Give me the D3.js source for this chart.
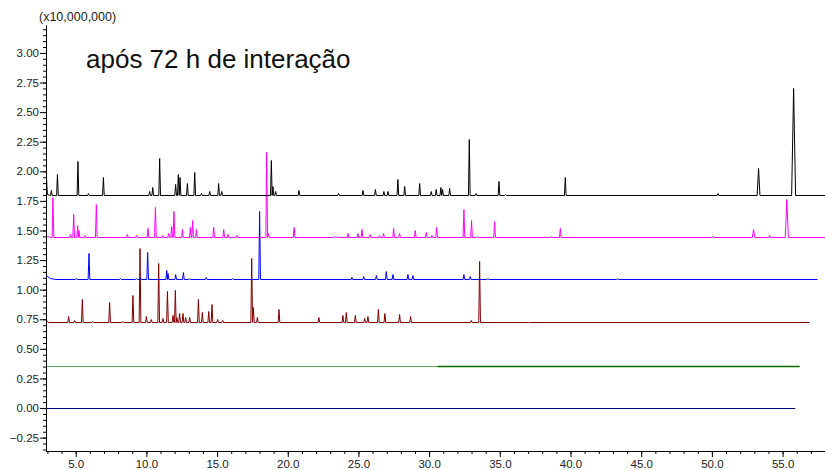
<!DOCTYPE html>
<html>
<head>
<meta charset="utf-8">
<script src="https://d3js.org/d3.v7.min.js"></script>
<style>
  body { margin: 0; background: #fff; }
  svg text { font-family: Arial, "Liberation Sans", sans-serif; }
</style>
</head>
<body>
<div id="graph"></div>
<script>
// chromatogram traces, retention time (min) vs intensity (x10,000,000)
// each trace: baseline level, first points, peak apexes [time, value, halfWidth?], end time

var blackBase = 1.80;
var blackStart = [[2.93, 1.96], [3.0, 1.81]];
var blackPeaks = [[3.28,1.84],[3.71,1.976],[5.16,2.086],[5.9,1.82],[6.96,1.95],[10.23,1.83],[10.45,1.87],[10.94,2.11],
  [12.07,1.89],[12.26,1.98],[12.38,1.95],[12.9,1.905],[13.42,1.99],[13.9,1.82],[14.48,1.83],[15.11,1.90],[15.33,1.83],
  [18.84,2.095],[18.95,1.88],[19.14,1.83],[20.79,1.84],[23.6,1.82],[25.32,1.84],[26.2,1.85],[26.8,1.83],[27.09,1.83],
  [27.79,1.934],[28.27,1.88],[29.33,1.90],[30.15,1.83],[30.5,1.85],[30.83,1.87],[30.95,1.85],[31.45,1.86],[32.84,2.27],
  [33.33,1.82],[34.94,1.917],[35.4,1.81],[39.63,1.95],[50.43,1.82],[53.3,2.03,0.1],[55.78,2.70,0.14]];
var blackEnd = 58;

var magentaBase = 1.445;
var magentaStart = [[2.93, 1.45]];
var magentaPeaks = [[3.39,1.78],[4.63,1.47],[4.86,1.64],[5.14,1.545],[5.23,1.50],[5.64,1.46],[6.46,1.72],[8.66,1.47],
  [9.3,1.46],[10.11,1.52],[10.64,1.70],[11.17,1.46],[11.58,1.48],[11.79,1.537],[11.95,1.665],[12.55,1.51],[13.11,1.53],
  [13.27,1.59],[13.54,1.51],[14.76,1.526],[15.47,1.51],[15.77,1.47],[16.39,1.46],[18.51,2.16],[18.63,1.48],[20.45,1.526],
  [23.32,1.455],[23.55,1.455],[24.26,1.475],[24.96,1.48],[25.25,1.515],[25.84,1.47],[26.5,1.46],[26.78,1.48],[27.49,1.52],
  [27.91,1.48],[29.02,1.50],[29.8,1.49],[30.2,1.465],[30.53,1.53],[32.46,1.68],[33.0,1.59],[33.43,1.45],[34.63,1.58],
  [38.64,1.455],[39.28,1.52],[50.05,1.455],[52.95,1.515,0.09],[54.08,1.46],[55.3,1.765,0.11]];
var magentaEnd = 58;

var blueBase = 1.09;
var blueStart = [[2.93, 1.12], [3.2, 1.10], [3.6, 1.092]];
var bluePeaks = [[5.05,1.10],[5.94,1.307],[8.16,1.10],[9.29,1.10],[9.58,1.11],[10.09,1.318],[11.44,1.165],[11.53,1.14],
  [12.07,1.13],[12.62,1.15],[13.06,1.10],[14.24,1.11],[16.1,1.10],[18.01,1.667],[24.54,1.11],[25.37,1.115],[26.27,1.125],
  [26.97,1.157],[27.44,1.13],[28.5,1.13],[28.85,1.12],[32.46,1.13],[32.91,1.115],[34.16,1.10],[43.33,1.095]];
var blueEnd = 57.47;

var darkredBase = 0.725;
var darkredStart = [[2.93, 0.74], [3.1, 0.728]];
var darkredPeaks = [[4.5,0.78],[4.93,0.74],[5.47,0.918],[6.2,0.735],[7.4,0.893],[8.32,0.735],[9.05,0.952],[9.55,1.349],
  [10.0,0.78],[10.35,0.75],[10.87,1.227],[11.17,0.76],[11.49,0.99],[11.88,0.79],[12.05,1.0],[12.16,0.77],[12.35,0.80],
  [12.59,0.80],[12.78,0.77],[13.06,0.77],[13.68,0.918],[13.96,0.81],[14.41,0.82],[14.64,0.876],[15.04,0.75],[15.4,0.745],
  [17.45,1.27],[17.57,0.856],[17.85,0.77],[19.38,0.834],[22.2,0.765],[23.9,0.785],[24.14,0.81],[24.78,0.79],[25.44,0.76],
  [25.67,0.775],[26.41,0.834],[26.87,0.805],[27.91,0.794],[28.69,0.775],[32.98,0.745],[33.57,1.24],[37.1,0.73]];
var darkredEnd = 56.9;

var greenBase = 0.355;
var greenStart = [[2.95, 0.355]];
var greenPeaks = [];
var greenEnd = 56.2;
var greenNoisy = [30.6, 56.2];

var navyBase = 0.0;
var navyStart = [[2.9, 0.0]];
var navyPeaks = [];
var navyEnd = 55.9;

var seriesColors = ["#000000", "#ff00ff", "#0000ff", "#800000", "#008000", "#000080"];

var yMajor = [-0.25, 0, 0.25, 0.5, 0.75, 1.0, 1.25, 1.5, 1.75, 2.0, 2.25, 2.5, 2.75, 3.0];
var xMajor = [5, 10, 15, 20, 25, 30, 35, 40, 45, 50, 55];
var titleText = "após 72 h de interação";
var unitText = "(x10,000,000)";

document.addEventListener('DOMContentLoaded', function() {

  const fullwidth = 825;
  const fullheight = 470;

  var xScale = d3.scaleLinear().domain([2.9, 58]).range([46, 825]);
  var yScale = d3.scaleLinear().domain([-0.363, 3.236]).range([451, 25]);

  // turn a peak list into a polyline: baseline - apex - baseline
  function buildTrace(base, start, peaks, end) {
    var pts = start.slice();
    var lastT = start[start.length - 1][0];
    for (var i = 0; i < peaks.length; ++i) {
      var t = peaks[i][0], h = peaks[i][1], w = peaks[i][2] || 0.06;
      var left = t - w;
      if (left <= lastT) left = null;      // touching the previous peak
      if (left !== null) pts.push([left, base]);
      pts.push([t, h]);
      var next = peaks[i + 1];
      var right = t + w;
      if (next) {
        var nw = next[2] || 0.06;
        if (right >= next[0] - nw) right = (t + next[0]) / 2;
      }
      pts.push([right, base]);
      lastT = right;
    }
    pts.push([end, base]);
    return pts;
  }

  var traces = [
    buildTrace(blackBase, blackStart, blackPeaks, blackEnd),
    buildTrace(magentaBase, magentaStart, magentaPeaks, magentaEnd),
    buildTrace(blueBase, blueStart, bluePeaks, blueEnd),
    buildTrace(darkredBase, darkredStart, darkredPeaks, darkredEnd),
    buildTrace(greenBase, greenStart, greenPeaks, greenEnd),
    buildTrace(navyBase, navyStart, navyPeaks, navyEnd)
  ];

  var svg = d3.select("#graph")
    .append("svg")
    .attr("width", fullwidth)
    .attr("height", fullheight);

  // snap y to pixel centres so flat baselines stay crisp
  var line = d3.line()
    .x(d => xScale(d[0]))
    .y(d => Math.round(yScale(d[1])) + 0.5);

  // draw bottom traces first so the top ones sit over them
  for (var i = traces.length - 1; i >= 0; --i) {
    svg.append("path")
      .attr("d", line(traces[i]))
      .attr("fill", "none")
      .attr("stroke", seriesColors[i])
      .attr("stroke-width", 1)
      .attr("stroke-opacity", i == 4 ? 0.65 : 1)
      .attr("stroke-linejoin", "round");
  }

  // noisy stretch of the green trace
  svg.append("path")
    .attr("d", line([[greenNoisy[0], greenBase], [greenNoisy[1], greenBase]]))
    .attr("stroke", "#006e00")
    .attr("stroke-width", 1.4);

  // axes
  var yAxis = d3.axisLeft(yScale).tickValues(yMajor).tickFormat(d3.format(".2f"))
    .tickSize(6).tickSizeOuter(0).tickPadding(1);
  var yMinor = d3.axisLeft(yScale).tickValues(d3.range(-35, 321, 5).map(v => v / 100))
    .tickFormat("").tickSize(3).tickSizeOuter(0);
  var xAxis = d3.axisBottom(xScale).tickValues(xMajor).tickFormat(d3.format(".1f"))
    .tickSize(6).tickSizeOuter(0).tickPadding(3);
  var xMinor = d3.axisBottom(xScale).tickValues(d3.range(3, 59, 1))
    .tickFormat("").tickSize(3).tickSizeOuter(0);

  var gy = svg.append("g").attr("transform", "translate(46,0)");
  gy.call(yMinor);
  gy.append("g").call(yAxis);

  var gx = svg.append("g").attr("transform", "translate(0,451)");
  gx.call(xMinor);
  gx.append("g").call(xAxis);

  svg.selectAll(".tick text")
    .attr("fill", "#222")
    .style("font-size", "11.5px")
    .style("font-family", "Arial, 'Liberation Sans', sans-serif");
  svg.selectAll(".domain, .tick line").attr("stroke", "#000");

  svg.append("text")
    .attr("x", 39)
    .attr("y", 21)
    .attr("fill", "#222")
    .style("font-size", "12.5px")
    .text(unitText);

  svg.append("text")
    .attr("x", 86)
    .attr("y", 68)
    .attr("fill", "#111")
    .style("font-size", "26px")
    .text(titleText);
});
</script>
</body>
</html>
